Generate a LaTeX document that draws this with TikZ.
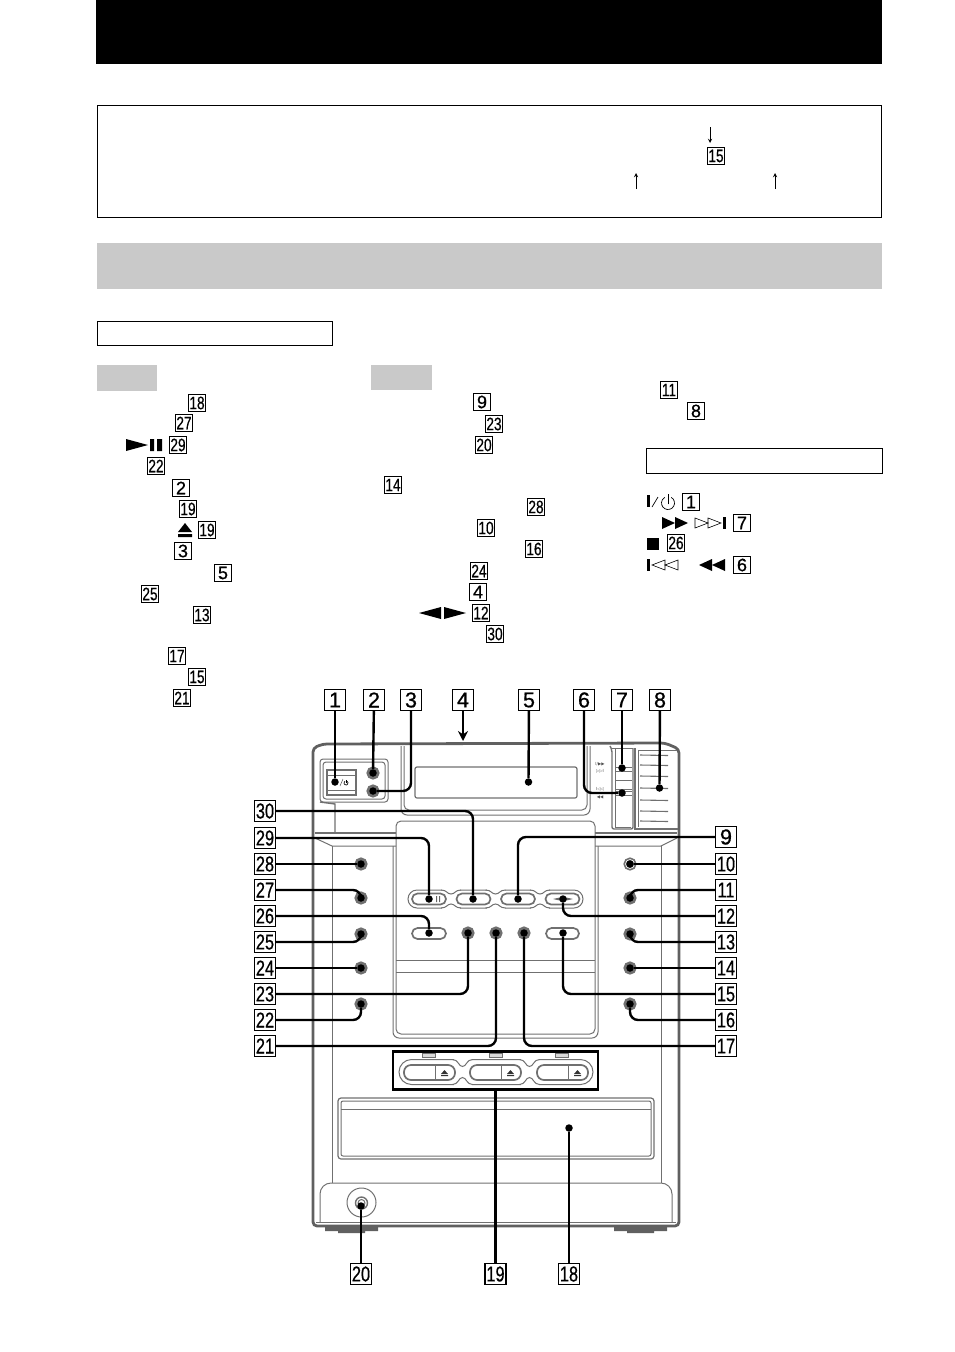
\documentclass[tikz,border=0pt]{standalone}
\usepackage{fontspec}
\usetikzlibrary{arrows.meta}
\newfontfamily\wideface[FakeBold=0.8]{Liberation Sans}
\newfontfamily\narrowface[FakeStretch=0.76,FakeBold=0.5]{Liberation Sans}
\newfontfamily\markface{DejaVu Sans}
\definecolor{bandgray}{HTML}{C9C9C9}
\definecolor{wallgray}{HTML}{606060}
\definecolor{linegray}{HTML}{707070}
\newcommand{\keytext}[1]{\ifnum#1>9 \narrowface\else\wideface\fi #1}
% outer outline of a row of joined buttons, necks given as x values
\newcommand{\capsulerow}[6]{
    \draw[panel, rounded corners=#4] (#1,#3-#4) rectangle (#2,#3+#4);
    \foreach \nx in {#6} {
        \fill[white] (\nx-9,#3-#4-1) rectangle (\nx+9,#3+#4+1);
        \draw[panel] (\nx-10,#3-#4) .. controls (\nx-4,#3-#4) and (\nx-4,#3-#5) .. (\nx,#3-#5)
            .. controls (\nx+4,#3-#5) and (\nx+4,#3-#4) .. (\nx+10,#3-#4);
        \draw[panel] (\nx-10,#3+#4) .. controls (\nx-4,#3+#4) and (\nx-4,#3+#5) .. (\nx,#3+#5)
            .. controls (\nx+4,#3+#5) and (\nx+4,#3+#4) .. (\nx+10,#3+#4);
    }
}
\tikzset{
    keybig/.style={draw, line width=1.1pt, inner sep=0pt, minimum size=21pt,
        font=\fontsize{21.5}{21.5}\selectfont},
    keysmall/.style={draw, line width=0.9pt, inner sep=0pt, minimum size=17.5pt,
        font=\fontsize{18}{18}\selectfont},
    spot/.style={circle, fill=black, inner sep=0pt, minimum size=7.5pt},
    wire/.style={line width=2.4pt, rounded corners=8pt},
    panel/.style={draw=linegray, line width=1pt},
    wall/.style={draw=wallgray, line width=2.8pt},
    knob/.style={circle, draw=linegray, line width=2.2pt, fill=linegray, minimum size=11pt, inner sep=0pt},
    capsule/.style={draw=linegray, line width=1.7pt, rounded corners=5.5pt},
    tinymark/.style={font=\markface\fontsize{4.2}{4.2}\selectfont, text=black!70, inner sep=0pt},
    power/.pic={
        \draw[line width=0.7pt] (-60:1) arc[start angle=-60, end angle=240, radius=1];
        \draw[line width=0.7pt] (0,0.2) -- (0,-1.35);
    },
}
\begin{document}
\begin{tikzpicture}[x=1pt, y=-1pt]
    \useasboundingbox (0,0) rectangle (954,1352);
    % page furniture
    \fill[black] (96,0) rectangle (882,64);
    \draw[line width=1pt] (97,105) rectangle (881.5,217.5);
    \fill[bandgray] (97,243) rectangle (882,289);
    \draw[line width=0.8pt] (97,321) rectangle (332,345);
    \fill[bandgray] (97,365) rectangle (157,391);
    \fill[bandgray] (371,365) rectangle (432,390);
    \draw[line width=0.8pt] (646,448) rectangle (882.5,473);
    % keys inside the text
    \foreach \n/\x/\y in {15/716/156,
        18/197/403,27/184/423,29/178/445,22/156/466,2/181/488,19/188/509,19/207/530,3/183/551,
        5/223/573,25/150/594,13/202/615,17/177/656,15/197/677,21/182/698,
        9/482/402,23/494/424,20/484/445,14/393/485,28/536/507,10/486/528,16/534/549,
        24/479/571,4/478/592,12/481/613,30/495/634,
        11/669/390,8/696/411,1/691/502,7/742/523,26/676/543,6/742/565}
        \node[keysmall] (s\n-\y) at (\x,\y) {\keytext{\n}};
    % symbols inside the text
    \fill (126,439) -- (148,445) -- (126,451) -- cycle;
    \fill (150,439) rectangle (154,451) (157,439) rectangle (162,451);
    \fill (185,523) -- (192,532) -- (178,532) -- cycle (178,534) rectangle (192,537);
    \fill (419,613) -- (441,607) -- (441,619) -- cycle;
    \fill (466,613) -- (444,607) -- (444,619) -- cycle;
    \fill (647,495) rectangle (650,507);
    \draw[line width=0.7pt] (652,507) -- (658,497);
    \pic[scale=6.5] at (668,503) {power};
    \fill (662,517) -- (675,523) -- (662,529) -- cycle (675,517) -- (688,523) -- (675,529) -- cycle;
    \draw[line width=0.6pt] (695,518) -- (708,523) -- (695,528) -- cycle (708,518) -- (721,523) -- (708,528) -- cycle;
    \fill (723,517) rectangle (726,529);
    \fill (647,538) rectangle (659,550);
    \fill (647,559) rectangle (650,571);
    \draw[line width=0.6pt] (665,560) -- (652,565) -- (665,570) -- cycle (678,560) -- (665,565) -- (678,570) -- cycle;
    \fill (712,559) -- (699,565) -- (712,571) -- cycle (725,559) -- (712,565) -- (725,571) -- cycle;
    % arrows in the note
    \coordinate (n1a) at (710,127);
    \coordinate (n1b) at (710,143);
    \coordinate (n2a) at (636,189);
    \coordinate (n2b) at (636,173);
    \coordinate (n3a) at (775,189);
    \coordinate (n3b) at (775,173);
    \draw[-stealth, line width=0.9pt] (n1a) -- (n1b);
    \draw[-stealth, line width=0.9pt] (n2a) -- (n2b);
    \draw[-stealth, line width=0.9pt] (n3a) -- (n3b);
    % cabinet
    \draw[wall, rounded corners=4pt] (313,1226) -- (313,748) -- (323,744) -- (665,743) -- (679,749) -- (679,1226) -- cycle;
    \fill[wallgray] (325,1227) rectangle (378,1231) (338,1231) rectangle (365,1233);
    \fill[wallgray] (614,1227) rectangle (667,1231) (627,1231) rectangle (654,1233);
    \draw[panel, line width=1.6pt] (315,833) -- (396,833) (595,833) -- (677,833);
    \draw[panel] (315,838) -- (332,846) -- (396,846) (677,838) -- (661,846) -- (595,846);
    \draw[panel] (332,846) -- (332,1183) (661,846) -- (661,1183);
    % power corner
    \draw[panel, rounded corners=3pt] (320,759) rectangle (388,802);
    \draw[panel, rounded corners=3pt] (323,762) rectangle (385,799);
    \draw[panel, line width=1.4pt] (327,770) rectangle (356,795);
    \draw[panel] (328,775) -- (355,775) (328,790) -- (355,790);
    \draw[panel, line width=1.4pt] (320,802) -- (335,804) -- (335,832);
    \node[knob] (b2) at (373,773) {};
    \node[knob] (b3) at (373,791) {};
    \draw[line width=0.5pt, black!70] (340,786) -- (343,779);
    \pic[scale=2] at (346,783) {power};
    % display
    \draw[panel, rounded corners=6pt] (401,746) -- (401,815) -- (590,815) -- (590,746);
    \draw[panel, rounded corners=5pt] (404,746) -- (404,810) -- (587,810) -- (587,746);
    \draw[panel, rounded corners=2pt, line width=1.2pt] (415,767) rectangle (577,798);
    % transport strip and vent
    \draw[panel, line width=1.4pt, rounded corners=2pt] (610,746) -- (612,750) -- (612,829) -- (633,829) -- (633,748);
    \draw[panel] (615,748) -- (615,827) -- (631,827);
    \draw[panel] (612,748) -- (633,748);
    \draw[panel] (615,767) -- (632,767) (615,771) -- (632,771) (615,780) -- (632,780)
        (615,789) -- (632,789) (615,791) -- (632,791) (615,795) -- (632,795);
    \draw[panel, line width=1.4pt] (635,748) -- (635,829) -- (678,829);
    \draw[panel] (638,750) -- (638,827) (638,750) -- (677,750);
    \foreach \y in {755,765,776,788,800,811,821}
        \draw[panel, line width=1.1pt] (640,\y) -- (668,\y+0.5);
    \node[tinymark] (lb1) at (600,764) {I/▶▶};
    \node[tinymark] (lb2) at (600,771) {▷▷I};
    \node[tinymark] (lb3) at (600,789) {I◁◁};
    \node[tinymark] (lb4) at (600,797) {◀◀};
    % centre panel
    \draw[panel, rounded corners=6pt] (393,846) -- (393,1038) -- (598,1038) -- (598,846);
    \draw[panel, rounded corners=5pt] (396,821) -- (396,1034) -- (595,1034) -- (595,821) -- cycle;
    \draw[panel] (396,960) -- (595,960) (396,972) -- (595,972);
    \capsulerow{408}{583}{899}{9}{5}{451,495.5,540}
    \foreach \x/\w in {429/17,473.5/17,518/17,562.5/17}
        \draw[capsule] (\x-\w,893.5) rectangle (\x+\w,904.5);
    \fill[black!60] (436,896) rectangle (437,902) (439,896) rectangle (440,902);
    \fill[black!60] (553,899) -- (562,897) -- (562,901) -- cycle (573,899) -- (564,897) -- (564,901) -- cycle;
    \draw[capsule] (412,928) rectangle (446,939);
    \draw[capsule] (546,928) rectangle (579,939);
    % side and centre knobs
    \foreach \n/\x/\y in {28/361/864,27/361/898,25/361/934,24/361/968,22/361/1004,
        10/630/864,11/630/898,13/630/934,14/630/968,16/630/1004,
        23/468/933,21/496/933,17/524/933}
        \node[knob] (r\n) at (\x,\y) {};
    \node[circle, draw=white, line width=0.6pt, minimum size=9pt, inner sep=0pt] (r10w) at (630,864) {};
    % cassette row
    \foreach \x in {429,496,562}
        \draw[panel, fill=black!15] (\x-6.5,1053) rectangle (\x+6.5,1057);
    \capsulerow{399}{593}{1072}{12.5}{5.5}{462.5,529.5}
    \foreach \x in {404,470,537} {
        \draw[capsule, rounded corners=7pt] (\x,1065) rectangle (\x+51,1080);
        \draw[panel, line width=1pt] (\x+31,1065) -- (\x+31,1080);
        \fill[black!80] (\x+37,1074) -- (\x+40.5,1070) -- (\x+44,1074) -- cycle (\x+37,1075) rectangle (\x+44,1076);
    }
    % drawer
    \draw[panel, rounded corners=3pt, line width=1.2pt] (338,1098) rectangle (654,1159);
    \draw[panel, rounded corners=2pt] (341,1101) rectangle (651,1156);
    \draw[panel] (341,1109) -- (651,1109);
    % foot strip and jack
    \draw[panel, rounded corners=11pt] (320,1222) -- (320,1183) -- (672,1183) -- (672,1222);
    \draw[panel] (316,1222) -- (676,1222);
    \draw[panel] (361.5,1202.5) circle[radius=14.5];
    \draw[panel, line width=1.4pt] (361.5,1203) circle[radius=6];
    \draw[panel] (361.5,1203) circle[radius=3.5];
    % numbered keys
    \foreach \n/\x/\y in {1/335/700,2/374/700,3/411/700,4/463/700,5/529/700,6/584/700,7/622/700,8/660/700,
        30/265/811,29/265/838,28/265/864,27/265/890,26/265/916,25/265/942,24/265/968,23/265/994,22/265/1020,21/265/1046,
        9/726/837,10/726/864,11/726/890,12/726/916,13/726/942,14/726/968,15/726/994,16/726/1020,17/726/1046,
        20/361/1274,19/495.5/1274,18/569/1274}
        \node[keybig] (k\n) at (\x,\y) {\keytext{\n}};
    % spots
    \foreach \n/\x/\y in {1/335/782,2/373/773,3/373/791,5/528.5/782,6/622/793,7/622/768,8/659.5/788,
        30/473/899,29/429/899,28/361/864,27/361/898,26/429/933,25/361/934,24/361/968,23/468/933,22/361/1004,21/496/933,
        9/518/899,10/630/864,11/630/898,12/563/899,13/630/934,14/630/968,15/563/933,16/630/1004,17/524/933,
        18/569/1128,20/361/1206}
        \node[spot] (d\n) at (\x,\y) {};
    \node[draw, line width=2.2pt, inner sep=0pt, minimum width=205pt, minimum height=38pt] (g19) at (495.5,1070.5) {};
    % connectors
    \coordinate (a4) at (463,741);
    \draw[line width=2.4pt, -{Stealth[length=10pt, width=10pt]}] (k4) -- (a4);
    \foreach \n in {1,2,5,7,8,10,14,18,20,24,28}
        \draw[wire] (k\n) -- (d\n);
    \draw[wire] (k3) |- (d3);
    \draw[wire] (k6) |- (d6);
    \foreach \n in {9,11,12,13,15,16,17,21,22,23,25,26,27,29,30}
        \draw[wire] (k\n) -| (d\n);
    \draw[wire] (g19.south) -- (k19);
\end{tikzpicture}
\end{document}
